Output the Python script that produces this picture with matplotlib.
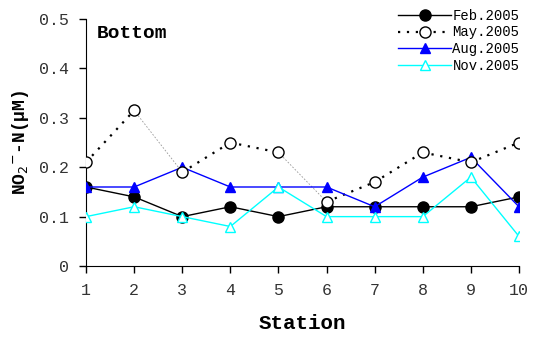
import matplotlib
matplotlib.use("Agg")
import matplotlib.pyplot as plt

stations = [1, 2, 3, 4, 5, 6, 7, 8, 9, 10]
feb = [0.16, 0.14, 0.10, 0.12, 0.10, 0.12, 0.12, 0.12, 0.12, 0.14]
may = [0.21, 0.315, 0.19, 0.25, 0.23, 0.13, 0.17, 0.23, 0.21, 0.25]
aug = [0.16, 0.16, 0.20, 0.16, 0.16, 0.16, 0.12, 0.18, 0.22, 0.12]
nov = [0.10, 0.12, 0.10, 0.08, 0.16, 0.10, 0.10, 0.10, 0.18, 0.06]
labels = ["Feb.2005", "May.2005", "Aug.2005", "Nov.2005"]
yticks = [0, 0.1, 0.2, 0.3, 0.4, 0.5]
yticklabels = ["0", "0.1", "0.2", "0.3", "0.4", "0.5"]

font = "Liberation Mono"

fig = plt.figure(figsize=(5.33, 3.41), dpi=100)
ax = fig.add_axes([0.1614, 0.2199, 0.8123, 0.7241])

ax.plot(stations, feb, color="black", lw=1.0, marker="o", ms=8,
        mfc="black", mec="black", label=labels[0], zorder=3)

# May line: dotted, with two thin grey connecting segments
thin_segments = {1, 4}
for i in range(len(stations) - 1):
    if i in thin_segments:
        ax.plot(stations[i:i + 2], may[i:i + 2], color="#999999", lw=0.6,
                ls=(0, (2, 2)), zorder=2)
    else:
        ax.plot(stations[i:i + 2], may[i:i + 2], color="black", lw=1.6,
                ls=(0, (1, 3)), zorder=2)
ax.plot(stations, may, ls="none", marker="o", ms=8, mfc="white",
        mec="black", mew=1.0, zorder=4)
ax.plot([], [], color="black", lw=1.6, ls=(0, (1, 3)), marker="o", ms=8,
        mfc="white", mec="black", label=labels[1])

ax.plot(stations, aug, color="blue", lw=1.0, marker="^", ms=7,
        mfc="blue", mec="blue", label=labels[2], zorder=3)
ax.plot(stations, nov, color="cyan", lw=1.0, marker="^", ms=7,
        mfc="white", mec="cyan", label=labels[3], zorder=3)

ax.set_xlim(1, 10)
ax.set_ylim(0, 0.5)
ax.set_xticks(stations)
ax.set_xticklabels([str(s) for s in stations], fontfamily=font, fontsize=12,
                   color="#333333")
ax.set_yticks(yticks)
ax.set_yticklabels(yticklabels, fontfamily=font, fontsize=12, color="#333333")
ax.spines["top"].set_visible(False)
ax.spines["right"].set_visible(False)
ax.tick_params(direction="out", length=5, width=1, pad=7)

ax.set_xlabel("Station", fontfamily=font, fontsize=15, fontweight="bold",
              labelpad=12)
ax.set_ylabel("NO$_2$$^{-}$-N(μM)", fontfamily=font, fontsize=13,
              fontweight="bold", labelpad=6)
ax.text(0.025, 0.94, "Bottom", transform=ax.transAxes, fontfamily=font,
        fontsize=14, fontweight="bold", va="center", ha="left")

leg = ax.legend(loc="upper right", bbox_to_anchor=(1.014, 1.065), frameon=False,
                prop={"family": font, "size": 10}, handlelength=3.8,
                handletextpad=0.1, labelspacing=0.2, borderaxespad=0)

fig.savefig("out.png", dpi=100)
